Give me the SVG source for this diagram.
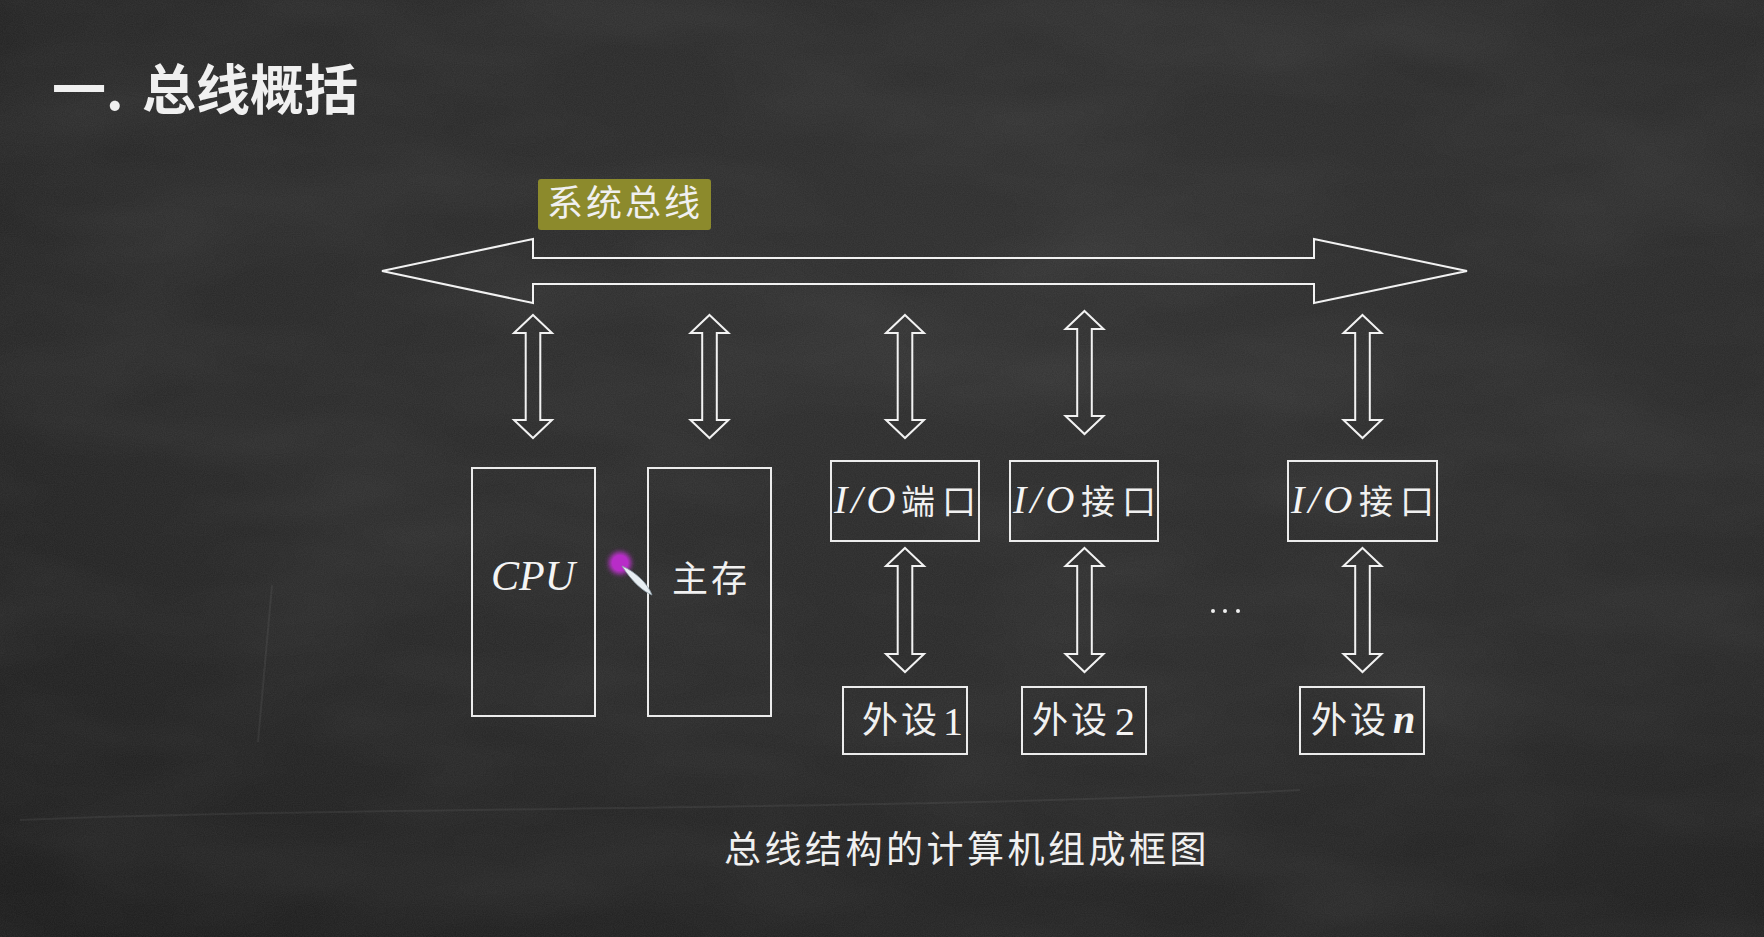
<svg xmlns="http://www.w3.org/2000/svg" width="1764" height="937" viewBox="0 0 1764 937">
  <defs>
    <radialGradient id="board" cx="0.6" cy="0.3" r="0.9">
      <stop offset="0" stop-color="#2f2f2f"/>
      <stop offset="0.55" stop-color="#282828"/>
      <stop offset="1" stop-color="#1b1b1b"/>
    </radialGradient>
    <filter id="grain" x="0" y="0" width="100%" height="100%">
      <feTurbulence type="fractalNoise" baseFrequency="0.9" numOctaves="2" seed="7" result="n"/>
      <feColorMatrix in="n" type="matrix" values="0 0 0 0 1  0 0 0 0 1  0 0 0 0 1  0 0 0 0.07 0"/>
    </filter>
    <filter id="smudge" x="0" y="0" width="100%" height="100%">
      <feTurbulence type="fractalNoise" baseFrequency="0.004 0.012" numOctaves="3" seed="3" result="n"/>
      <feColorMatrix in="n" type="matrix" values="0 0 0 0 1  0 0 0 0 1  0 0 0 0 1  0 0 0 0.08 -0.03"/>
    </filter>
    <filter id="glow" x="-1" y="-1" width="3" height="3">
      <feGaussianBlur stdDeviation="2.5"/>
    </filter>
    <path id="dbl" d="M0,0 L19,18 L7.3,18 L7.3,105 L19,105 L0,123 L-19,105 L-7.3,105 L-7.3,18 L-19,18 Z"/>
    <path id="dbl2" d="M0,0 L19,18 L7.3,18 L7.3,106 L19,106 L0,124 L-19,106 L-7.3,106 L-7.3,18 L-19,18 Z"/>
  </defs>
  <style>
    .ln { fill: none; stroke: #f2f2f2; stroke-width: 2; stroke-linejoin: miter; }
    .box { fill: none; stroke: #ececec; stroke-width: 2; }
    .cjk { font-family: 'Noto Sans CJK SC', 'Noto Sans CJK JP', sans-serif; fill: #f0f0f0; }
    .ser { font-family: 'Liberation Serif', 'DejaVu Serif', serif; fill: #f4f4f4; }
    .it { font-style: italic; }
  </style>

  <!-- chalkboard -->
  <rect width="1764" height="937" fill="url(#board)"/>
  <rect width="1764" height="937" filter="url(#smudge)"/>
  <rect width="1764" height="937" filter="url(#grain)"/>
  <g stroke="#ffffff" stroke-opacity="0.06" fill="none" stroke-width="2">
    <path d="M272,585 L258,742"/>
    <path d="M20,820 C400,805 900,812 1300,790"/>
  </g>

  <!-- heading -->
  <text x="52" y="110" class="cjk" font-size="54" font-weight="bold" fill="#ffffff">一.<tspan x="142">总线概括</tspan></text>

  <!-- bus label -->
  <g id="bus-label">
    <rect x="538" y="179" width="173" height="51" rx="3" fill="#8c8a2c"/>
    <text x="547" y="216" class="cjk" font-size="36" letter-spacing="3" fill="#f4f0d8">系统总线</text>
  </g>

  <!-- system bus -->
  <g id="system-bus">
    <path class="ln" d="M382,271 L533,239 L533,258 L1314,258 L1314,239 L1467,271 L1314,303 L1314,284 L533,284 L533,303 Z"/>
  </g>

  <!-- connectors: bus to units, interfaces to devices -->
  <g id="connectors" class="ln">
    <use href="#dbl" x="533" y="315"/>
    <use href="#dbl" x="709.5" y="315"/>
    <use href="#dbl" x="905" y="315"/>
    <use href="#dbl" x="1084.5" y="311"/>
    <use href="#dbl" x="1362.5" y="315"/>
    <use href="#dbl2" x="905" y="548"/>
    <use href="#dbl2" x="1084.5" y="548"/>
    <use href="#dbl2" x="1362.5" y="548"/>
  </g>

  <g id="cpu">
    <rect class="box" x="472" y="468" width="123" height="248"/>
    <text x="533" y="590" class="ser it" font-size="42" text-anchor="middle">CPU</text>
  </g>

  <g id="main-memory">
    <rect class="box" x="648" y="468" width="123" height="248"/>
    <text x="672" y="592" class="cjk" font-size="36" letter-spacing="3">主存</text>
  </g>

  <g id="io-port">
    <rect class="box" x="831" y="461" width="148" height="80"/>
    <text x="834" y="513" class="ser it" font-size="40" letter-spacing="4">I/O</text>
    <text x="901" y="514" class="cjk" font-size="34">端</text>
    <text x="942" y="514" class="cjk" font-size="34">口</text>
  </g>

  <g id="io-interface-2">
    <rect class="box" x="1010" y="461" width="148" height="80"/>
    <text x="1013" y="513" class="ser it" font-size="40" letter-spacing="4">I/O</text>
    <text x="1081" y="514" class="cjk" font-size="34">接</text>
    <text x="1122" y="514" class="cjk" font-size="34">口</text>
  </g>

  <g id="io-interface-n">
    <rect class="box" x="1288" y="461" width="149" height="80"/>
    <text x="1291" y="513" class="ser it" font-size="40" letter-spacing="4">I/O</text>
    <text x="1359" y="514" class="cjk" font-size="34">接</text>
    <text x="1400" y="514" class="cjk" font-size="34">口</text>
  </g>

  <g id="device-1">
    <rect class="box" x="843" y="687" width="124" height="67"/>
    <text x="862" y="733" class="cjk" font-size="36" letter-spacing="3">外设</text>
    <text x="943" y="735" class="ser" font-size="40">1</text>
  </g>

  <g id="device-2">
    <rect class="box" x="1022" y="687" width="124" height="67"/>
    <text x="1032" y="733" class="cjk" font-size="36" letter-spacing="3">外设</text>
    <text x="1115" y="735" class="ser" font-size="40">2</text>
  </g>

  <g id="device-n">
    <rect class="box" x="1300" y="687" width="124" height="67"/>
    <text x="1311" y="733" class="cjk" font-size="36" letter-spacing="3">外设</text>
    <text x="1393" y="733" class="ser it" font-size="40" font-weight="bold">n</text>
  </g>

  <!-- ellipsis between interfaces -->
  <g id="ellipsis" fill="#f0f0f0">
    <circle cx="1213" cy="611" r="2"/>
    <circle cx="1225" cy="611" r="2"/>
    <circle cx="1238" cy="611" r="2"/>
  </g>

  <!-- pointer -->
  <g id="pointer">
    <circle cx="620" cy="563" r="11" fill="#c030d0" filter="url(#glow)"/>
    <circle cx="620" cy="563" r="8" fill="#b82cc8"/>
    <path d="M622,566 C636,572 648,584 652,595 C644,592 632,582 622,566 Z" fill="#e8eef2" stroke="#8a9aa4" stroke-width="0.8"/>
  </g>

  <!-- caption -->
  <text x="724" y="863" class="cjk" font-size="37" letter-spacing="3.5" fill="#ececec">总线结构的计算机组成框图</text>
</svg>
